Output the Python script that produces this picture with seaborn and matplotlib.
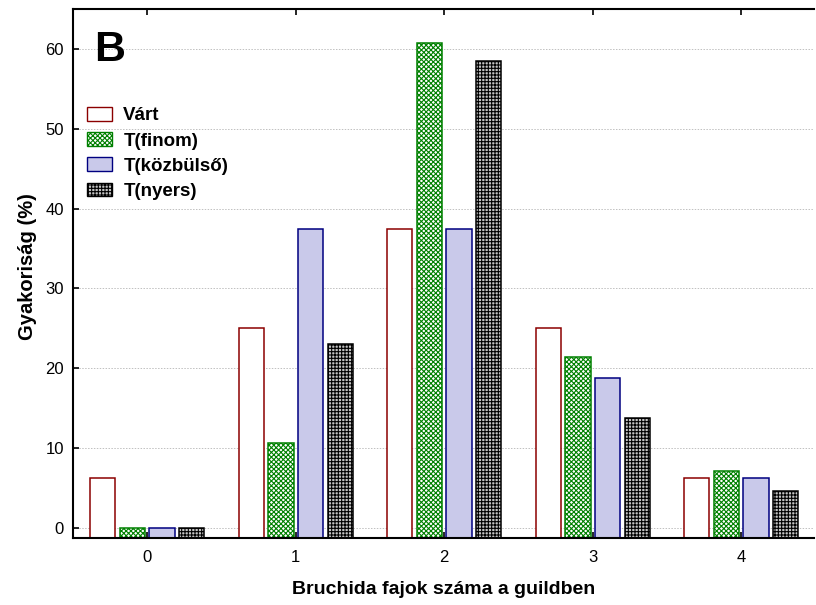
import matplotlib
matplotlib.use("Agg")
import matplotlib.pyplot as plt
import seaborn as sns
import pandas as pd

categories = ["0", "1", "2", "3", "4"]
series_names = ["Várt", "T(finom)", "T(közbülső)", "T(nyers)"]
vart = [6.25, 25.0, 37.5, 25.0, 6.25]
t_finom = [0.0, 10.7, 60.7, 21.4, 7.1]
t_kozbulso = [0.0, 37.5, 37.5, 18.75, 6.25]
t_nyers = [0.0, 23.1, 58.5, 13.8, 4.6]
yticks = [0, 10, 20, 30, 40, 50, 60]

face_colors = ["#ffffff", "#ffffff", "#c9c9ea", "#c4c4c4"]
edge_colors = ["#8b0000", "#008000", "#000080", "#000000"]
hatches = [None, "xxxxxxx", None, "+++++"]

rows = []
for name, vals in zip(series_names, [vart, t_finom, t_kozbulso, t_nyers]):
    for c, v in zip(categories, vals):
        rows.append({"cat": c, "series": name, "value": v})
df = pd.DataFrame(rows)

sns.set_theme(style="white")
plt.rcParams["font.family"] = ["Liberation Sans", "DejaVu Sans"]
plt.rcParams["hatch.linewidth"] = 0.8
for k in ["text.color", "axes.labelcolor", "xtick.color", "ytick.color"]:
    plt.rcParams[k] = "black"

fig = plt.figure(figsize=(8.16, 6.05), dpi=100)
ax = fig.add_axes([73 / 816, 1 - 538 / 605, (814 - 73) / 816, (538 - 9) / 605])

sns.barplot(data=df, x="cat", y="value", hue="series", order=categories,
            hue_order=series_names, palette=face_colors, width=0.8, gap=0.15,
            legend=False, ax=ax, saturation=1)

ybot = -1.25
for cont, ec, h in zip(ax.containers, edge_colors, hatches):
    for p in cont.patches:
        p.set_edgecolor(ec)
        p.set_linewidth(1.1)
        if h:
            p.set_hatch(h)
        p.set_y(ybot)
        p.set_height(p.get_height() - ybot)

ax.set_ylim(ybot, 65)
ax.set_xlim(-0.5, 4.49)
ax.set_yticks(yticks)
ax.yaxis.grid(True, linestyle=(0, (1.5, 1.5)), color="#c0c0c0", linewidth=0.7)
ax.set_axisbelow(True)

for s in ["left", "bottom", "top"]:
    ax.spines[s].set_visible(True)
    ax.spines[s].set_color("black")
    ax.spines[s].set_linewidth(1.5)
ax.spines["right"].set_visible(False)

ax.tick_params(axis="y", direction="in", length=4, width=1.2, labelsize=12,
               left=True, pad=6.5)
ax.tick_params(axis="x", direction="in", length=4, width=1.2, labelsize=12,
               bottom=True, top=True, pad=8.5)

ax.set_xlabel("Bruchida fajok száma a guildben", fontsize=14, fontweight="bold",
              labelpad=12)
ax.set_ylabel("Gyakoriság (%)", fontsize=14.5, fontweight="bold")
ax.yaxis.set_label_coords(-0.049, 0.514)

ax.text(0.028, 0.96, "B", transform=ax.transAxes, fontsize=31,
        fontweight="bold", va="top", ha="left")

leg = ax.legend(ax.containers, series_names, loc="upper left",
                bbox_to_anchor=(0.019, 0.815), frameon=False,
                prop={"weight": "bold", "size": 13.5}, handlelength=1.33,
                handleheight=0.75, handletextpad=0.6, labelspacing=0.42,
                borderpad=0, borderaxespad=0)
for h in leg.legend_handles:
    h.set_linewidth(1.0)

fig.savefig("out.png", dpi=100)
